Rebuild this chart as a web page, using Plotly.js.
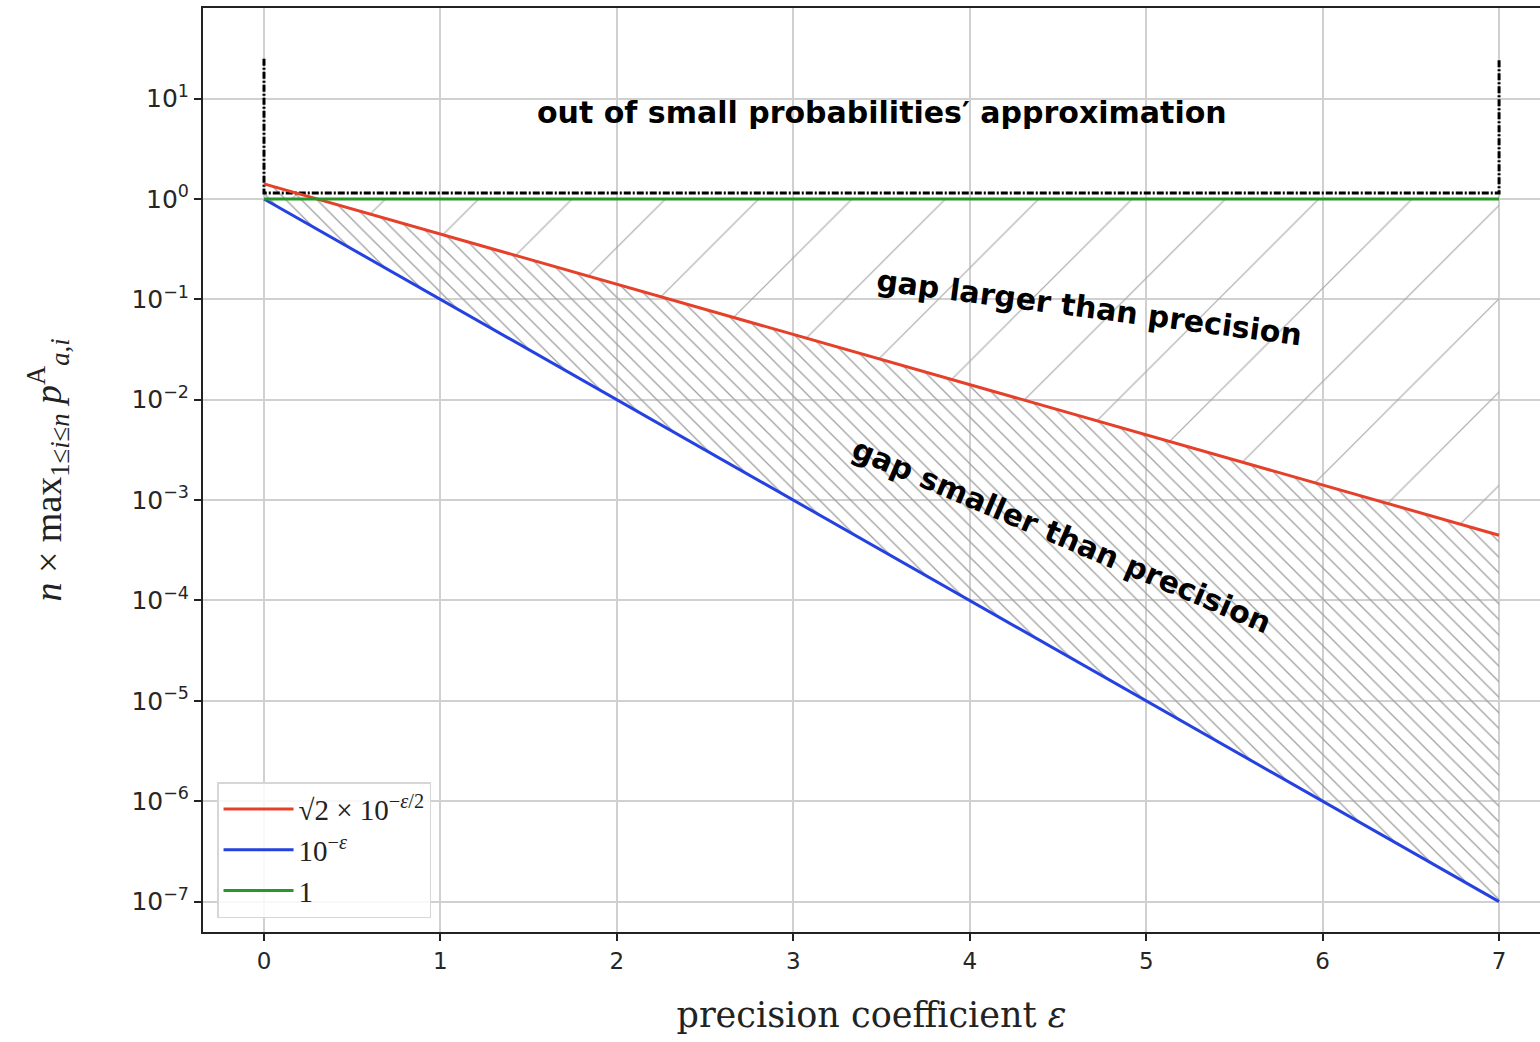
<!DOCTYPE html>
<html>
<head>
<meta charset="utf-8">
<script src="https://cdn.plot.ly/plotly-3.0.1.min.js"></script>
<style>html,body{margin:0;padding:0;background:#fff;}#chart{width:1540px;height:1042px;}</style>
</head>
<body>
<div id="chart"></div>
<script>
// Data
const eps = [0, 1, 2, 3, 4, 5, 6, 7];
const redVals = [1.414, 0.4472, 0.1414, 0.04472, 0.01414, 0.004472, 0.001414, 0.0004472];
const blueVals = [1, 0.1, 0.01, 0.001, 0.0001, 0.00001, 0.000001, 0.0000001];
const greenVals = [1, 1, 1, 1, 1, 1, 1, 1];
const boxX = [0, 0, 7, 7];
const boxY = [25, 1.15, 1.15, 25];
const yTickVals = [1e-7, 1e-6, 1e-5, 1e-4, 1e-3, 1e-2, 1e-1, 1, 10];
const yTickText = ['10<sup>−7</sup>','10<sup>−6</sup>','10<sup>−5</sup>','10<sup>−4</sup>','10<sup>−3</sup>','10<sup>−2</sup>','10<sup>−1</sup>','10<sup>0</sup>','10<sup>1</sup>'];
const xTickVals = [0, 1, 2, 3, 4, 5, 6, 7];
const legendNames = ['√2 × 10<sup>−<i>ε</i>/2</sup>', '10<sup>−<i>ε</i></sup>', '1'];
const colors = {red: '#e5402a', blue: '#2541e0', green: '#2a962a'};

const traces = [
  {x: eps, y: blueVals, mode: 'lines', line: {width: 0, color: 'rgba(0,0,0,0)'}, showlegend: false, hoverinfo: 'skip'},
  {x: eps, y: redVals, mode: 'lines', line: {width: 0, color: 'rgba(0,0,0,0)'}, fill: 'tonexty',
   fillcolor: 'rgba(0,0,0,0)', fillpattern: {shape: '\\', fgcolor: '#a0a0a0', size: 11, solidity: 0.12},
   showlegend: false, hoverinfo: 'skip'},
  {x: eps, y: greenVals, mode: 'lines', line: {width: 0, color: 'rgba(0,0,0,0)'}, fill: 'tonexty',
   fillcolor: 'rgba(0,0,0,0)', fillpattern: {shape: '/', fgcolor: '#a8a8a8', size: 66, solidity: 0.018},
   showlegend: false, hoverinfo: 'skip'},
  {x: boxX, y: boxY, mode: 'lines', line: {color: '#000', width: 3, dash: '7px,2px,2px,2px'}, showlegend: false, hoverinfo: 'skip'},
  {x: eps, y: redVals, mode: 'lines', name: legendNames[0], line: {color: colors.red, width: 3}},
  {x: eps, y: blueVals, mode: 'lines', name: legendNames[1], line: {color: colors.blue, width: 3}},
  {x: eps, y: greenVals, mode: 'lines', name: legendNames[2], line: {color: colors.green, width: 3}}
];

const layout = {
  width: 1540, height: 1042,
  margin: {l: 203, r: 0, t: 8, b: 110},
  paper_bgcolor: '#fff', plot_bgcolor: '#fff',
  showlegend: true,
  legend: {x: 0.0105, y: 0.015, xanchor: 'left', yanchor: 'bottom', traceorder: 'normal',
    bgcolor: 'rgba(255,255,255,0.85)', bordercolor: '#d6d6d6', borderwidth: 1.5,
    font: {family: 'Liberation Serif, serif', size: 29, color: '#222'}, tracegroupgap: 0, itemwidth: 70},
  xaxis: {range: [-0.3457, 7.232], tickvals: xTickVals, ticks: 'outside', ticklen: 7, tickwidth: 2, tickcolor: '#222',
    showline: true, linecolor: '#222', linewidth: 2, mirror: true,
    showgrid: true, gridcolor: '#d0d0d0', gridwidth: 2, zeroline: false,
    tickfont: {family: 'DejaVu Sans, sans-serif', size: 23, color: '#262626'},
    title: {text: 'precision coefficient <i>ε</i>', font: {family: 'DejaVu Serif, serif', size: 35, color: '#222'}, standoff: 30}},
  yaxis: {type: 'log', range: [-7.303, 1.903], tickvals: yTickVals, ticktext: yTickText,
    ticks: 'outside', ticklen: 7, tickwidth: 2, tickcolor: '#222',
    showline: true, linecolor: '#222', linewidth: 2, mirror: false,
    showgrid: true, gridcolor: '#d0d0d0', gridwidth: 2, zeroline: false,
    tickfont: {family: 'DejaVu Sans, sans-serif', size: 25, color: '#262626'},
    title: {text: '<i>n</i> × max<sub>1≤<i>i</i>≤<i>n</i></sub> <i>p</i><sup>A</sup><sub><i>a,i</i></sub>', font: {family: 'Liberation Serif, serif', size: 38, color: '#222'}, standoff: 58}},
  annotations: [
    {x: 3.5, y: Math.log10(7.2), xref: 'x', yref: 'y', text: '<b>out of small probabilities′ approximation</b>', showarrow: false,
     font: {family: 'DejaVu Sans, sans-serif', size: 30, color: '#000'}},
    {x: 4.68, y: Math.log10(0.0838), xref: 'x', yref: 'y', text: '<b>gap larger than precision</b>', showarrow: false, textangle: 7.4,
     font: {family: 'DejaVu Sans, sans-serif', size: 30, color: '#000'}},
    {x: 4.52, y: Math.log10(4.47e-4), xref: 'x', yref: 'y', text: '<b>gap smaller than precision</b>', showarrow: false, textangle: 23.1,
     font: {family: 'DejaVu Sans, sans-serif', size: 30, color: '#000'}}
  ]
};

Plotly.newPlot('chart', traces, layout, {displayModeBar: false, staticPlot: true});
</script>
</body>
</html>
